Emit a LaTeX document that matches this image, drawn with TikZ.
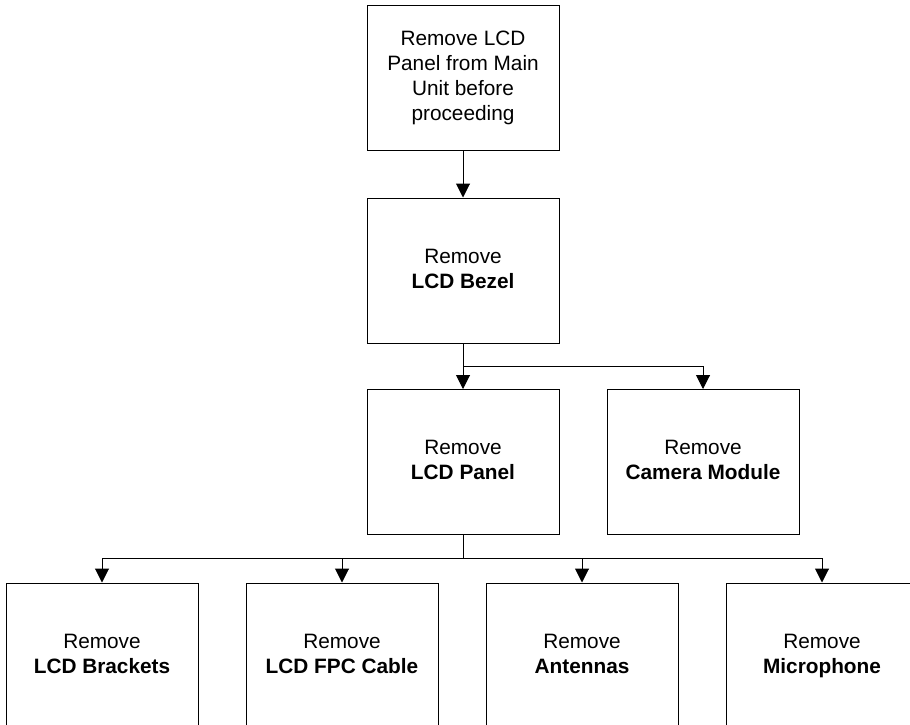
\documentclass[tikz,border=0pt]{standalone}
\usepackage{fontspec}
\setmainfont{Liberation Sans}
\usetikzlibrary{arrows.meta}
\begin{document}
\begin{tikzpicture}[x=1pt,y=-1pt,
  box/.style={draw=black,line width=1pt,rectangle,minimum width=192pt,minimum height=145pt,
    align=center,inner sep=0pt,font=\fontsize{20.8pt}{25pt}\selectfont},
  conn/.style={draw=black,line width=1pt,-{Triangle[width=14pt,length=14pt]}},
  plain/.style={draw=black,line width=1pt}]
\useasboundingbox (0,0) rectangle (910,724);
\clip (0,0) rectangle (910,724);
\node[box] (top) at (463,78) {\strut Remove LCD\\\strut Panel from Main\\\strut Unit before\\\strut proceeding};
\node[box] (bezel) at (463,270.5) {\strut Remove\\\strut\textbf{LCD Bezel}};
\node[box] (panel) at (463,462) {\strut Remove\\\strut\textbf{LCD Panel}};
\node[box] (camera) at (703,462) {\strut Remove\\\strut\textbf{Camera Module}};
\node[box] (brackets) at (102,655.5) {\strut Remove\\\strut\textbf{LCD Brackets}};
\node[box] (fpc) at (342,655.5) {\strut Remove\\\strut\textbf{LCD FPC Cable}};
\node[box] (antennas) at (582,655.5) {\strut Remove\\\strut\textbf{Antennas}};
\node[box] (mic) at (822,655.5) {\strut Remove\\\strut\textbf{Microphone}};
\coordinate (j1) at (463,366);
\coordinate (j2) at (463,558);
\draw[conn] (top) -- (bezel);
\draw[conn] (bezel) -- (panel);
\draw[conn] (j1) -| (camera);
\draw[plain] (panel) -- (j2);
\draw[conn] (j2) -| (brackets);
\draw[conn] (j2) -| (fpc);
\draw[conn] (j2) -| (antennas);
\draw[conn] (j2) -| (mic);
\end{tikzpicture}
\end{document}
